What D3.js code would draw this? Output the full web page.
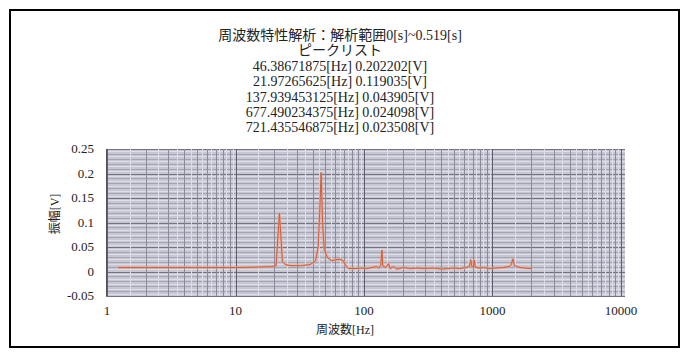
<!DOCTYPE html>
<html>
<head>
<meta charset="utf-8">
<script src="https://cdn.jsdelivr.net/npm/d3@7"></script>
<style>
  body { margin: 0; background: #fff; }
  text { font-family: "Liberation Serif", "Noto Sans CJK JP", serif; fill: #222; }
</style>
</head>
<body>
<div id="chart"></div>
<script>
const titleLines = [
  "周波数特性解析：解析範囲0[s]~0.519[s]",
  "ピークリスト",
  "46.38671875[Hz] 0.202202[V]",
  "21.97265625[Hz] 0.119035[V]",
  "137.939453125[Hz] 0.043905[V]",
  "677.490234375[Hz] 0.024098[V]",
  "721.435546875[Hz] 0.023508[V]"
];

// spectrum
const freqs = [1.22, 2, 5, 10, 15, 19, 20.7, 21.97, 23.2, 24.4, 27, 32, 38, 42, 44, 45.2, 46.39, 47.6, 49, 52, 56, 60, 65, 69, 72, 76,
  85, 95, 105, 115, 125, 130, 135, 137.94, 140, 148, 155, 160, 170, 180, 200, 230, 260, 300, 350, 400, 450, 500, 560, 620, 660,
  677.49, 690, 710, 721.44, 735, 780, 850, 950, 1050, 1200, 1350, 1400, 1440, 1480, 1550, 1650, 1800, 2000];
const amps = [0.008, 0.008, 0.008, 0.008, 0.009, 0.01, 0.012, 0.119, 0.02, 0.014, 0.012, 0.012, 0.014, 0.022, 0.05, 0.12, 0.202, 0.1, 0.045, 0.028, 0.022, 0.024, 0.025, 0.022, 0.012, 0.006,
  0.006, 0.007, 0.006, 0.008, 0.01, 0.007, 0.012, 0.0439, 0.012, 0.008, 0.016, 0.006, 0.01, 0.005, 0.008, 0.006, 0.007, 0.006, 0.007, 0.005, 0.006, 0.007, 0.006, 0.008, 0.01,
  0.0241, 0.01, 0.009, 0.0235, 0.009, 0.007, 0.008, 0.006, 0.007, 0.008, 0.01, 0.014, 0.026, 0.012, 0.01, 0.008, 0.007, 0.006];

const yTicks = [-0.05, 0, 0.05, 0.1, 0.15, 0.2, 0.25];
const xTicks = [1, 10, 100, 1000, 10000];

const width = 688, height = 353;
const svg = d3.select("#chart").append("svg")
  .attr("width", width)
  .attr("height", height);

// outer frame
svg.append("rect")
  .attr("x", 10).attr("y", 10)
  .attr("width", 669).attr("height", 337)
  .attr("fill", "#fff")
  .attr("stroke", "#000")
  .attr("stroke-width", 2);

const x = d3.scaleLog().domain([1, 10000]).range([107, 621]);
const y = d3.scaleLinear().domain([-0.05, 0.25]).range([296, 149]);

// plot area
svg.append("rect")
  .attr("x", 106).attr("y", y(0.25))
  .attr("width", 625 - 106).attr("height", y(-0.05) - y(0.25))
  .attr("fill", "#c6c7d3");

const grid = svg.append("g");

// horizontal grid, every 0.005
const hLines = d3.range(0, 61).map(i => -0.05 + i * 0.005);
grid.selectAll("line.h")
  .data(hLines)
  .enter()
  .append("line")
  .attr("x1", 106).attr("x2", 625)
  .attr("y1", d => Math.round(y(d)) + 0.5)
  .attr("y2", d => Math.round(y(d)) + 0.5)
  .attr("stroke", (d, i) => i % 10 === 0 ? "#72727f" : (i % 2 === 0 ? "#a4a5b2" : "#dcdde6"))
  .attr("stroke-width", 1);

// vertical grid, log minor ticks
const vLines = [];
for (let e = 0; e < 4; e++) {
  const base = Math.pow(10, e);
  for (let m = 1; m < 10; m += 0.5) {
    vLines.push({ v: base * m, major: m === 1, mid: Number.isInteger(m) });
  }
}
vLines.push({ v: 10000, major: true, mid: true });
grid.selectAll("line.v")
  .data(vLines)
  .enter()
  .append("line")
  .attr("x1", d => Math.round(x(d.v)) + 0.5)
  .attr("x2", d => Math.round(x(d.v)) + 0.5)
  .attr("y1", y(0.25)).attr("y2", y(-0.05))
  .attr("stroke", d => d.major ? "#5e5e6c" : (d.mid ? "#8a8a98" : "#dcdde6"))
  .attr("stroke-width", 1);

// left axis
svg.append("line")
  .attr("x1", 106.5).attr("x2", 106.5)
  .attr("y1", y(0.25)).attr("y2", y(-0.05))
  .attr("stroke", "#555");

// spectrum line
const line = d3.line()
  .x((d, i) => x(freqs[i]))
  .y(d => y(d));
svg.append("path")
  .datum(amps)
  .attr("d", line)
  .attr("fill", "none")
  .attr("stroke", "#eca58e")
  .attr("stroke-width", 2.5)
  .attr("stroke-opacity", 0.7);
svg.append("path")
  .datum(amps)
  .attr("d", line)
  .attr("fill", "none")
  .attr("stroke", "#cf5d3c")
  .attr("stroke-width", 1);

// y tick labels
svg.selectAll("text.ytick")
  .data(yTicks)
  .enter()
  .append("text")
  .attr("x", 94)
  .attr("y", d => y(d) + 4)
  .attr("text-anchor", "end")
  .style("font-size", "13px")
  .text(d => d === 0 ? "0" : String(d));

// x tick labels
svg.selectAll("text.xtick")
  .data(xTicks)
  .enter()
  .append("text")
  .attr("x", d => x(d))
  .attr("y", 315)
  .attr("text-anchor", "middle")
  .style("font-size", "13px")
  .text(d => String(d));

// axis titles
svg.append("text")
  .attr("x", 345).attr("y", 334)
  .attr("text-anchor", "middle")
  .style("font-size", "12px")
  .text("周波数[Hz]");

svg.append("text")
  .attr("transform", "translate(59,214) rotate(-90)")
  .attr("text-anchor", "middle")
  .style("font-size", "12px")
  .text("振幅[V]");

// title and peak list
svg.selectAll("text.title")
  .data(titleLines)
  .enter()
  .append("text")
  .attr("x", 340)
  .attr("y", (d, i) => 40 + i * 15.4)
  .attr("text-anchor", "middle")
  .style("font-size", "14px")
  .text(d => d);
</script>
</body>
</html>
